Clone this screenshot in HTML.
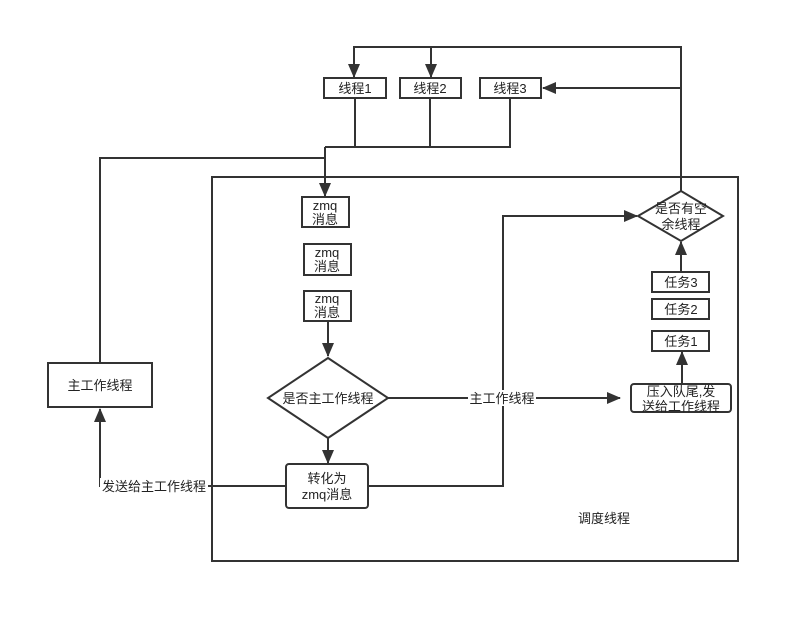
<!DOCTYPE html><html><head><meta charset="utf-8"><style>body{margin:0;background:#fff}</style></head><body>
<svg width="800" height="623" xmlns="http://www.w3.org/2000/svg" font-family="Liberation Sans, Noto Sans CJK SC, sans-serif" font-size="13" fill="none">
<defs><marker id="a" markerWidth="14" markerHeight="12" refX="13" refY="6" orient="auto" markerUnits="userSpaceOnUse"><path d="M0,0 L14,6 L0,12 z" fill="#333"/></marker></defs>
<g stroke="#333" stroke-width="2">
<rect x="212" y="177" width="526" height="384"/>
<polyline points="354,78 354,47 681,47 681,191"/>
<line x1="354" y1="47" x2="354" y2="77" marker-end="url(#a)"/>
<line x1="431" y1="47" x2="431" y2="77" marker-end="url(#a)"/>
<line x1="681" y1="88" x2="543" y2="88" marker-end="url(#a)"/>
<polyline points="355,98 355,147"/><polyline points="430,98 430,147"/><polyline points="510,98 510,147 325,147"/>
<polyline points="100,363 100,158 325,158"/>
<line x1="325" y1="147" x2="325" y2="196" marker-end="url(#a)"/>
<line x1="328" y1="321" x2="328" y2="356" marker-end="url(#a)"/>
<line x1="328" y1="438" x2="328" y2="463" marker-end="url(#a)"/>
<polyline points="368,486 503,486 503,216 637,216" marker-end="url(#a)"/>
<line x1="388" y1="398" x2="620" y2="398" marker-end="url(#a)"/>
<line x1="682" y1="384" x2="682" y2="352" marker-end="url(#a)"/>
<line x1="681" y1="272" x2="681" y2="242" marker-end="url(#a)"/>
<polyline points="286,486 100,486 100,409" marker-end="url(#a)"/>
<g fill="#fff">
<rect x="324" y="78" width="62" height="20"/><rect x="400" y="78" width="61" height="20"/><rect x="480" y="78" width="61" height="20"/>
<rect x="302" y="197" width="47" height="30"/><rect x="304" y="244" width="47" height="31"/><rect x="304" y="291" width="47" height="30"/>
<polygon points="328,358 388,398 328,438 268,398"/>
<rect x="286" y="464" width="82" height="44" rx="3"/>
<polygon points="681,191 723,216 681,241 638,216"/>
<rect x="631" y="384" width="100" height="28" rx="3"/>
<rect x="652" y="331" width="57" height="20"/><rect x="652" y="299" width="57" height="20"/><rect x="652" y="272" width="57" height="20"/>
<rect x="48" y="363" width="104" height="44"/>
</g></g>
<rect x="468" y="390" width="68" height="16" fill="#fff"/>
<rect x="100" y="478" width="108" height="16" fill="#fff"/>
<g fill="#222" text-anchor="middle">
<text x="355" y="93">线程1</text><text x="430" y="93">线程2</text><text x="510" y="93">线程3</text>
<text x="325" y="210">zmq</text><text x="325" y="224">消息</text>
<text x="327" y="257">zmq</text><text x="327" y="271">消息</text>
<text x="327" y="303">zmq</text><text x="327" y="317">消息</text>
<text x="328" y="403">是否主工作线程</text>
<text x="327" y="483">转化为</text><text x="327" y="499">zmq消息</text>
<text x="681" y="213">是否有空</text><text x="681" y="229">余线程</text>
<text x="681" y="396">压入队尾,发</text><text x="681" y="411">送给工作线程</text>
<text x="681" y="346">任务1</text><text x="681" y="314">任务2</text><text x="681" y="287">任务3</text>
<text x="100" y="390">主工作线程</text>
<text x="502" y="403">主工作线程</text>
<text x="154" y="491">发送给主工作线程</text>
<text x="604" y="523">调度线程</text>
</g></svg></body></html>
